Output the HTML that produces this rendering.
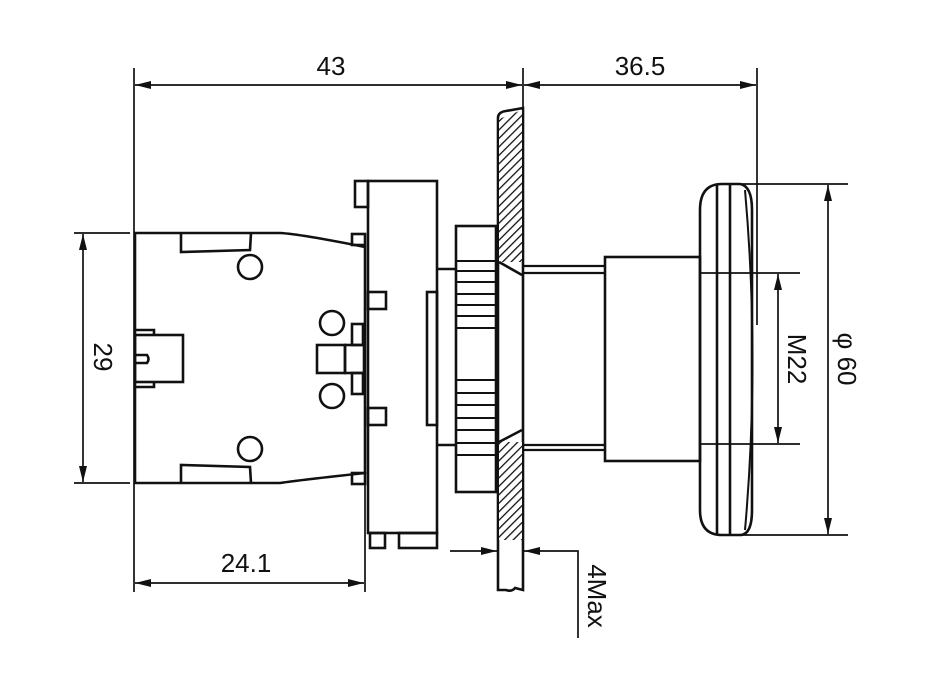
<!DOCTYPE html>
<html><head><meta charset="utf-8"><style>html,body{margin:0;padding:0;background:#fff}svg{display:block}</style></head>
<body>
<svg width="937" height="691" viewBox="0 0 937 691" xmlns="http://www.w3.org/2000/svg">
<defs>
<marker id="a" viewBox="0 0 16 8" refX="16" refY="4" markerWidth="16" markerHeight="8" markerUnits="userSpaceOnUse" orient="auto-start-reverse"><path d="M0,0 L16,4 L0,8 z" fill="#111"/></marker>
<pattern id="h" width="6" height="6" patternUnits="userSpaceOnUse" patternTransform="rotate(45)"><rect width="6" height="6" fill="#fff"/><line x1="0" y1="0" x2="0" y2="6" stroke="#111" stroke-width="2.6"/></pattern>
</defs>
<g fill="none" stroke="#111" stroke-width="1.7">
<line x1="134" y1="68" x2="134" y2="592"/>
<line x1="523" y1="68" x2="523" y2="108"/>
<line x1="757" y1="68" x2="757" y2="325"/>
<line x1="135" y1="85" x2="522" y2="85" marker-start="url(#a)" marker-end="url(#a)"/>
<line x1="524" y1="85" x2="756" y2="85" marker-start="url(#a)" marker-end="url(#a)"/>
<line x1="74" y1="233" x2="130" y2="233"/>
<line x1="74" y1="483" x2="130" y2="483"/>
<line x1="83" y1="234" x2="83" y2="482" marker-start="url(#a)" marker-end="url(#a)"/>
<line x1="365" y1="485" x2="365" y2="592"/>
<line x1="135" y1="583" x2="364" y2="583" marker-start="url(#a)" marker-end="url(#a)"/>
<g stroke-width="2.6">
<path d="M135,233 L280,233 Q300,234 365,247 L365,473 Q300,480 280,483 L135,483 Z"/>
<path d="M181,233 L181,252 L250,250 L251,233"/>
<path d="M181,483 L181,465 L250,467 L251,483"/>
<circle cx="250" cy="267" r="12"/>
<circle cx="250" cy="449" r="12"/>
<circle cx="332" cy="323" r="12"/>
<circle cx="332" cy="396" r="12"/>
<rect x="135" y="335" width="48" height="47"/>
<path d="M135,330 L154,330 L154,335 M135,387 L154,387 L154,382 M135,355 L147,355 Q150,359 147,363 L135,363"/>
<rect x="317" y="345" width="28" height="28"/>
<rect x="345" y="345" width="19" height="28"/>
<rect x="352" y="324" width="11" height="21"/>
<rect x="352" y="373" width="11" height="21"/>
<rect x="352" y="234" width="13" height="11"/>
<rect x="352" y="473" width="13" height="11"/>
<rect x="368" y="181" width="69" height="352"/>
<rect x="355" y="181" width="13" height="26"/>
<rect x="368" y="292" width="18" height="17"/>
<rect x="368" y="408" width="18" height="17"/>
<rect x="370" y="533" width="15" height="15"/>
<rect x="399" y="533" width="38" height="15"/>
<rect x="427" y="292" width="10" height="133"/>
<path d="M437,269 L456,269 M437,445 L456,445"/>
<rect x="456" y="226" width="40" height="266"/>
<path d="M456,261 H496 M456,271 H496 M456,282 H496 M456,294 H496 M456,305 H496 M456,316 H496 M456,328 H496 M456,380 H496 M456,393 H496 M456,405 H496 M456,418 H496 M456,430 H496 M456,443 H496 M456,455 H496" stroke-width="2"/>
<path d="M498,118 Q498,112 506,111 L523,108 L523,590 L515,588 Q512,592 506,590 L498,590 Z" fill="#fff"/>
<path d="M499,119 L522,110 L522,262 L499,262 Z" fill="url(#h)" stroke="none"/>
<path d="M499,442 L522,442 L522,540 L499,540 Z" fill="url(#h)" stroke="none"/>
<line x1="499" y1="262" x2="522" y2="275"/>
<line x1="499" y1="442" x2="522" y2="430"/>
<path d="M523,266 H605 M523,273 H605 M523,445 H605 M523,450 H605" stroke-width="2.2"/>
<rect x="605" y="257" width="95" height="204"/>
<path d="M722,184 L740,184 Q752,186 752,210 L752,510 Q752,535 740,535 L722,535 Q700,535 700,510 L700,210 Q700,184 722,184 Z"/>
<path d="M745,190 Q760,360 745,530" stroke-width="2"/>
<line x1="717" y1="185" x2="717" y2="534"/>
<line x1="730" y1="185" x2="730" y2="534"/>
</g>
<line x1="700" y1="273" x2="800" y2="273"/>
<line x1="700" y1="444" x2="800" y2="444"/>
<line x1="778" y1="274" x2="778" y2="443" marker-start="url(#a)" marker-end="url(#a)"/>
<line x1="735" y1="184" x2="848" y2="184"/>
<line x1="735" y1="535" x2="848" y2="535"/>
<line x1="828" y1="185" x2="828" y2="534" marker-start="url(#a)" marker-end="url(#a)"/>
<line x1="450" y1="551" x2="497" y2="551" marker-end="url(#a)"/>
<polyline points="578,638 578,551 524,551" marker-end="url(#a)"/>
</g>
<g font-family="Liberation Sans, sans-serif" font-size="26" fill="#111" text-anchor="middle">
<text x="331" y="75">43</text>
<text x="640" y="75">36.5</text>
<text x="246" y="572">24.1</text>
<text transform="translate(94,357) rotate(90)">29</text>
<text transform="translate(788,359) rotate(90)">M22</text>
<text transform="translate(838,359) rotate(90)">φ 60</text>
<text transform="translate(588,596) rotate(90)">4Max</text>
</g>
</svg>
</body></html>
